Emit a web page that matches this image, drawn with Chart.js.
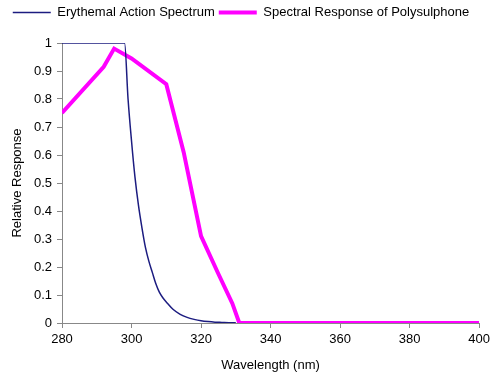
<!DOCTYPE html>
<html>
<head>
<meta charset="utf-8">
<script src="https://cdn.jsdelivr.net/npm/chart.js@4.4.0/dist/chart.umd.min.js"></script>
<style>
  html, body { margin: 0; padding: 0; background: #fff; }
  #wrap { width: 494px; height: 377px; }
</style>
</head>
<body>
<div id="wrap"><canvas id="chart" width="494" height="377"></canvas></div>
<script>
// Erythemal action spectrum
const eryWavelength = [280, 298, 299, 300, 301, 302, 303, 304, 305, 306, 307, 308, 309, 310, 312, 314, 316, 318, 320, 322, 324, 326, 328, 330];
const eryValues = [1, 1, 0.80, 0.65, 0.52, 0.42, 0.34, 0.27, 0.22, 0.18, 0.14, 0.11, 0.09, 0.075, 0.048, 0.031, 0.02, 0.013, 0.008, 0.005, 0.003, 0.002, 0.001, 0.0008];

// Spectral response of polysulphone
const polyWavelength = [280, 292, 295, 300, 310, 315, 320, 325, 329, 331, 340, 360, 380, 400];
const polyValues = [0.75, 0.915, 0.98, 0.945, 0.853, 0.61, 0.31, 0.175, 0.07, 0, 0, 0, 0, 0];

const xTicks = [280, 300, 320, 340, 360, 380, 400];

const toPoints = (xs, ys) => xs.map((x, i) => ({ x: x, y: ys[i] }));

Chart.defaults.font.family = '"Liberation Sans", Arial, sans-serif';
Chart.defaults.font.size = 13;
Chart.defaults.color = '#000';

// extra space between legend and plot
const legendGap = {
  id: 'legendGap',
  beforeInit(chart) {
    const fit = chart.legend.fit;
    chart.legend.fit = function() {
      fit.bind(chart.legend)();
      this.height += 14;
    };
  }
};

const ctx = document.getElementById('chart').getContext('2d');
new Chart(ctx, {
  type: 'scatter',
  data: {
    datasets: [{
      label: 'Erythemal Action Spectrum',
      data: toPoints(eryWavelength, eryValues),
      showLine: true,
      borderColor: '#1c1c80',
      backgroundColor: '#1c1c80',
      borderWidth: 1.5,
      pointRadius: 0,
      cubicInterpolationMode: 'monotone'
    }, {
      label: 'Spectral Response of Polysulphone',
      data: toPoints(polyWavelength, polyValues),
      showLine: true,
      borderColor: '#ff00ff',
      backgroundColor: '#ff00ff',
      borderWidth: 4,
      pointRadius: 0,
      tension: 0
    }]
  },
  options: {
    responsive: false,
    animation: false,
    layout: { padding: { left: 0, right: 12, top: 2, bottom: 4 } },
    plugins: {
      legend: {
        position: 'top',
        labels: {
          usePointStyle: true,
          pointStyle: 'line',
          pointStyleWidth: 38,
          boxHeight: 13,
          padding: 4,
          color: '#000'
        }
      },
      tooltip: { enabled: false }
    },
    scales: {
      x: {
        type: 'linear',
        min: 280,
        max: 400,
        afterBuildTicks: axis => { axis.ticks = xTicks.map(v => ({ value: v })); },
        grid: { drawOnChartArea: false, drawTicks: true, tickLength: 5, color: '#888' },
        border: { color: '#888', width: 1 },
        ticks: { padding: 4, maxRotation: 0 },
        title: { display: true, text: 'Wavelength (nm)', padding: { top: 4, bottom: 0 } },
        afterFit: scale => { scale.height = 50; }
      },
      y: {
        min: 0,
        max: 1,
        ticks: {
          stepSize: 0.1,
          padding: 5,
          callback: v => String(Math.round(v * 10) / 10)
        },
        grid: { drawOnChartArea: false, drawTicks: true, tickLength: 5, color: '#888' },
        border: { color: '#888', width: 1 },
        title: { display: true, text: 'Relative Response', padding: { top: 10, bottom: 0 } },
        afterFit: scale => { scale.width = 62; }
      }
    }
  },
  plugins: [legendGap]
});
</script>
</body>
</html>
